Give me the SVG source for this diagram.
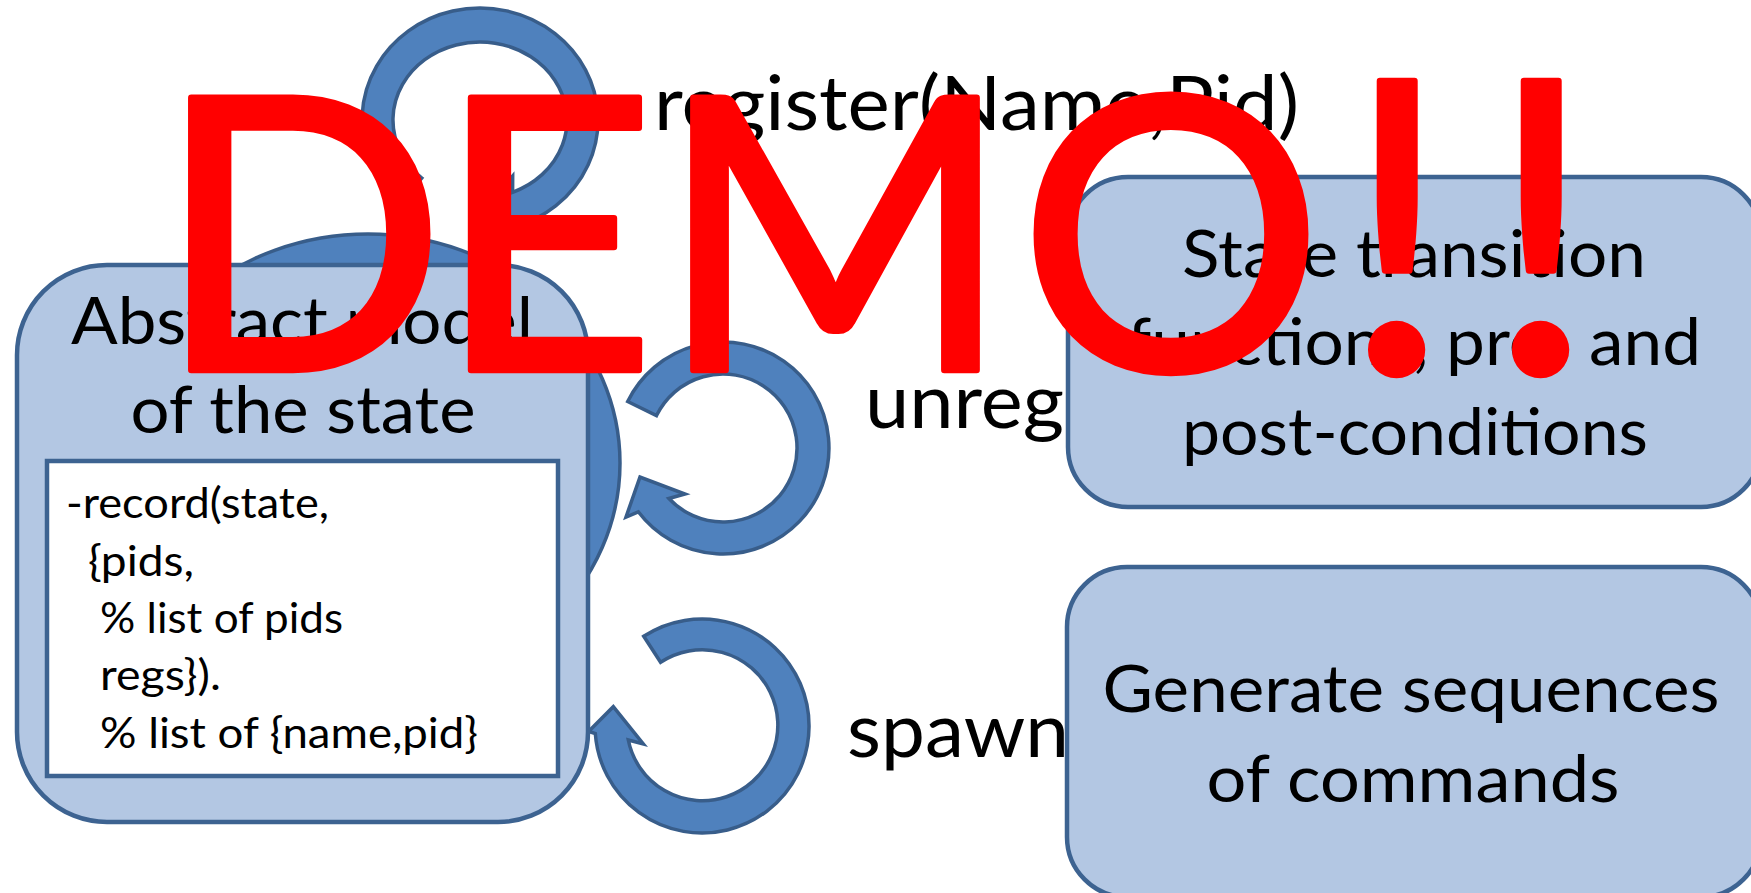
<svg xmlns="http://www.w3.org/2000/svg" width="1751" height="893" viewBox="0 0 1751 893">
<style>
.arrow{fill:#4F81BD;stroke:#385D8A;stroke-width:3.5;stroke-linejoin:miter}
.box{fill:#B3C7E3;stroke:#3D6391;stroke-width:4.5}
.inner{fill:#FFFFFF;stroke:#3D6391;stroke-width:4.5}
text{font-family:Lato,"Liberation Sans",sans-serif;fill:#000000}
.big{font-size:66px;text-anchor:middle}
.code{font-size:42.7px}
.lbl{font-size:74.6px}
.demo{fill:#FF0000;stroke:#FF0000;stroke-width:6.5;stroke-linejoin:round;text-anchor:middle}
</style>
<rect width="1751" height="893" fill="#FFFFFF"/>
<g id="connectors">
  <ellipse id="loop-big" class="arrow" cx="368" cy="463" rx="252" ry="229"/>
  <path id="loop-register" class="arrow" d="M401,203.2 A118,112 0 1 1 512.5,227.7 L512.5,244 L481,212 L512.7,176 L512.6,192.3 A87,78 0 1 0 421.8,178 Z"/>
  <path id="loop-unreg" class="arrow" d="M627.7,401.5 A106,106 0 1 1 638.3,511.8 L626,517 L640,477 L685,494 L668.9,498.5 A74,74 0 1 0 656.5,415.6 Z"/>
  <path id="loop-spawn" class="arrow" d="M643.7,636.3 A107,107 0 1 1 595.3,733.5 L588.6,731.4 L613.3,706.7 L643.3,744 L628.3,740 A75.5,75.5 0 1 0 660.6,662.3 Z"/>
  <text class="lbl" x="654" y="130" textLength="645" lengthAdjust="spacingAndGlyphs">register(Name,Pid)</text>
  <text class="lbl" x="865" y="428" textLength="199" lengthAdjust="spacingAndGlyphs">unreg</text>
  <text class="lbl" x="847" y="757" textLength="222" lengthAdjust="spacingAndGlyphs">spawn</text>
</g>
<g id="node-abstract-model">
  <rect class="box" x="17" y="265" width="571" height="557" rx="90" ry="90"/>
  <text class="big" x="302" y="344" textLength="462" lengthAdjust="spacingAndGlyphs">Abstract model</text>
  <text class="big" x="303" y="433" textLength="345" lengthAdjust="spacingAndGlyphs">of the state</text>
  <rect class="inner" x="47" y="461" width="511" height="315"/>
  <text class="code" x="66" y="518" textLength="263" lengthAdjust="spacingAndGlyphs">-record(state,</text>
  <text class="code" x="88" y="576" textLength="106" lengthAdjust="spacingAndGlyphs">{pids,</text>
  <text class="code" x="100" y="633" textLength="243" lengthAdjust="spacingAndGlyphs">% list of pids</text>
  <text class="code" x="100" y="690" textLength="121" lengthAdjust="spacingAndGlyphs">regs}).</text>
  <text class="code" x="100" y="748" textLength="378" lengthAdjust="spacingAndGlyphs">% list of {name,pid}</text>
</g>
<g id="node-state-transition">
  <rect class="box" x="1068" y="177" width="693" height="330" rx="60" ry="60"/>
  <text class="big" x="1414" y="277" textLength="464" lengthAdjust="spacingAndGlyphs">State transition</text>
  <text class="big" x="1414" y="365" textLength="574" lengthAdjust="spacingAndGlyphs">functions, pre- and</text>
  <text class="big" x="1415" y="455" textLength="466" lengthAdjust="spacingAndGlyphs">post-conditions</text>
</g>
<g id="node-generate">
  <rect class="box" x="1067" y="567" width="694" height="330" rx="60" ry="60"/>
  <text class="big" x="1411" y="712" textLength="617" lengthAdjust="spacingAndGlyphs">Generate sequences</text>
  <text class="big" x="1413" y="802" textLength="413" lengthAdjust="spacingAndGlyphs">of commands</text>
</g>
<g id="watermark">
  <text class="demo" x="301 546 835 1171" y="370" font-size="380">DEMO</text>
  <text class="demo" x="1397 1541" y="372" font-size="406">!!</text>
</g>
</svg>
